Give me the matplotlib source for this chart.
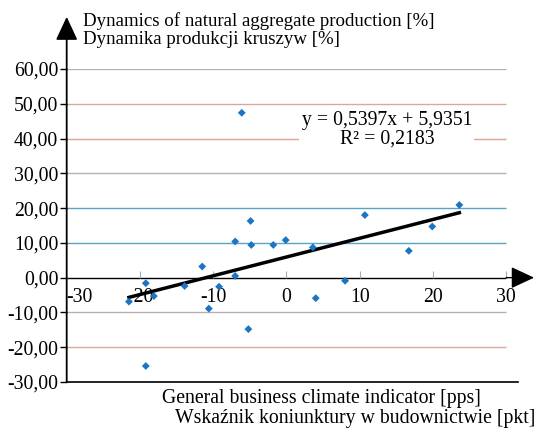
import matplotlib
matplotlib.use('Agg')
import matplotlib.pyplot as plt
import numpy as np

# dane
x_vals = [-21.5, -19.2, -18.1, -19.2, -13.9, -11.5, -10.6, -9.2, -7.0, -7.0,
          -4.8, -4.9, -5.2, -6.1, -1.8, -0.1, 3.6, 4.0, 8.0, 16.7, 19.9, 23.6, 10.7]
y_vals = [-6.9, -1.6, -5.3, -25.4, -2.4, 3.2, -8.9, -2.6, 10.4, 0.5,
          9.4, 16.3, -14.8, 47.4, 9.4, 10.8, 8.7, -5.9, -0.9, 7.7, 14.7, 20.9, 18.0]
slope = 0.5397
intercept = 5.9351
r2 = 0.2183

y_ticks = [-30, -20, -10, 0, 10, 20, 30, 40, 50, 60]
y_tick_labels = ['-30,00', '-20,00', '-10,00', '0,00', '10,00', '20,00',
                 '30,00', '40,00', '50,00', '60,00']
x_ticks = [-30, -20, -10, 0, 10, 20, 30]
x_tick_labels = ['-30', '-20', '-10', '0', '10', '20', '30']

plt.rcParams['font.family'] = ['Liberation Serif', 'DejaVu Serif']
fs = 14.2

fig = plt.figure(figsize=(5.4, 4.29), dpi=100)
ax = fig.add_axes([0.1235, 0.1096, 0.8357, 0.7296])
ax.set_xlim(-30, 31.6)
ax.set_ylim(-30, 60)

# linie siatki
grid_colors = {60: '#b9b2b2', 50: '#d8a89e', 40: '#e0a393', 30: '#aab5bd',
               20: '#58a5c2', 10: '#58a5c2', -10: '#bcaeae', -20: '#d9a89e'}
for lvl, col in grid_colors.items():
    ax.hlines(lvl, -30, 30, colors=col, lw=1.0, zorder=1)

# os x (y = 0)
ax.hlines(0, -30, 30, colors='black', lw=1.0, zorder=2)
for xt in x_ticks[1:]:
    ax.vlines(xt, 0, 2, colors='#9ab0bc', lw=0.8, zorder=2)

# punkty
ax.scatter(x_vals, y_vals, marker='D', s=16, color='#1b75c4', edgecolors='none', zorder=4)

# linia trendu
xs = np.array([min(x_vals), max(x_vals)])
ax.plot(xs, slope * xs + intercept, color='black', lw=2.5, zorder=3)

ax.text(13.7, 42.5, 'y = 0,5397x + 5,9351\nR² = 0,2183', ha='center', va='center',
        fontsize=fs, linespacing=0.95, zorder=5,
        bbox=dict(fc='white', ec='none', pad=1.5))

# osie
for s in ['top', 'right', 'left']:
    ax.spines[s].set_visible(False)
ax.spines['bottom'].set_linewidth(1.2)
ax.set_xticks([])
ax.set_yticks(y_ticks)
ax.set_yticklabels(y_tick_labels, fontsize=fs)
ax.tick_params(axis='y', length=5, width=1, pad=1)

for xt, lab in zip(x_ticks, x_tick_labels):
    if xt == -30:
        ax.text(xt, -5.8, lab, ha='left', va='center', fontsize=fs)
    else:
        ax.text(xt, -5.8, lab, ha='center', va='center', fontsize=fs)

# strzalki
ax.annotate('', xy=(-30, 75), xytext=(-30, -30), annotation_clip=False,
            arrowprops=dict(arrowstyle='-|>,head_length=0.9,head_width=0.42',
                            color='black', lw=1.3, mutation_scale=16, shrinkA=0, shrinkB=0))
ax.annotate('', xy=(33.8, 0), xytext=(30, 0), annotation_clip=False,
            arrowprops=dict(arrowstyle='-|>,head_length=0.9,head_width=0.42',
                            color='black', lw=1.0, mutation_scale=16, shrinkA=0, shrinkB=0))

# opisy
fig.text(83 / 540, 1 - 26 / 429, 'Dynamics of natural aggregate production [%]',
         ha='left', va='baseline', fontsize=13.6)
fig.text(83 / 540, 1 - 44 / 429, 'Dynamika produkcji kruszyw [%]',
         ha='left', va='baseline', fontsize=13.6)
fig.text(162 / 540, 1 - 399 / 429, 'General business climate indicator [pps]',
         ha='left', va='center', fontsize=fs)
fig.text(175 / 540, 1 - 418 / 429, 'Wskaźnik koniunktury w budownictwie [pkt]',
         ha='left', va='center', fontsize=fs)

fig.savefig('out.png', dpi=100)
